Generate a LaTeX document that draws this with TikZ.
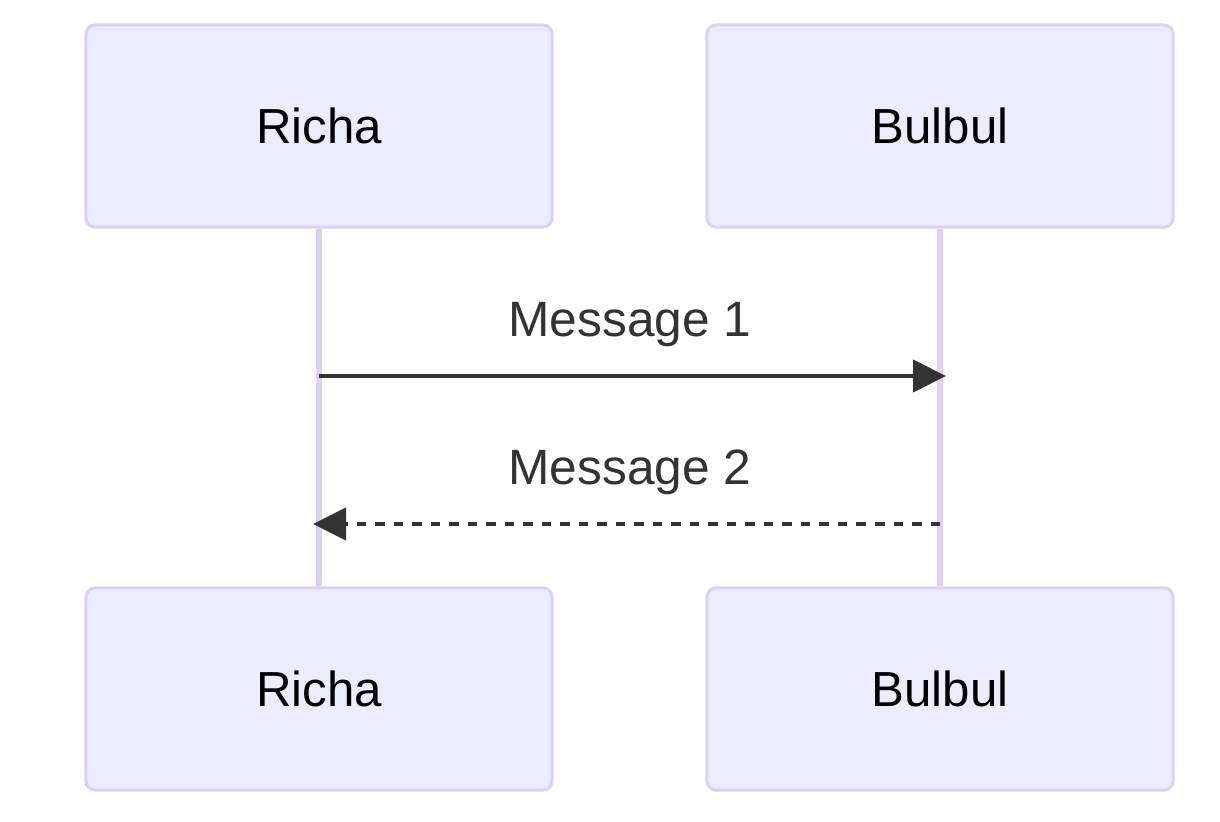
\documentclass[tikz,border=0pt]{standalone}
\usepackage{fontspec}
\setmainfont{Liberation Sans}
\usepackage{xcolor}
\usetikzlibrary{arrows.meta}
\definecolor{actorfill}{HTML}{ECECFF}
\definecolor{actorline}{HTML}{DCD0F5}
\definecolor{msgcol}{HTML}{333333}
\begin{document}
\begin{tikzpicture}[x=0.025cm, y=-0.025cm,
  actor/.style={draw=actorline, fill=actorfill, line width=0.075cm, rounded corners=0.225cm,
    minimum width=11.65cm, minimum height=5.05cm, font=\fontsize{35pt}{40pt}\selectfont},
  lifeline/.style={actorline, line width=0.15cm},
  msgline/.style={msgcol, line width=0.105cm, -{Triangle[length=0.825cm, width=0.8cm]}},
  msgtext/.style={msgcol, anchor=base, font=\fontsize{35.3pt}{40pt}\selectfont}]
 \useasboundingbox (0,0) rectangle (1220,821);
\node[actor] (richaTop) at (319,126) {Richa};
\node[actor] (bulbulTop) at (940,126) {Bulbul};
\node[actor] (richaBot) at (319,689) {Richa};
\node[actor] (bulbulBot) at (940,689) {Bulbul};
 \draw[lifeline] (richaTop) -- (richaBot);
 \draw[lifeline] (bulbulTop) -- (bulbulBot);
\coordinate (m1from) at (319,376);
\coordinate (m1to) at (946,376);
\coordinate (m2from) at (940,524);
\coordinate (m2to) at (313,524);
 \draw[msgline] (m1from) -- (m1to);
 \draw[msgline, dash pattern=on 0.2375cm off 0.225cm] (m2from) -- (m2to);
\node[msgtext] (msgOne) at (630,336) {Message 1};
\node[msgtext] (msgTwo) at (630,484) {Message 2};
 \end{tikzpicture}
\end{document}
